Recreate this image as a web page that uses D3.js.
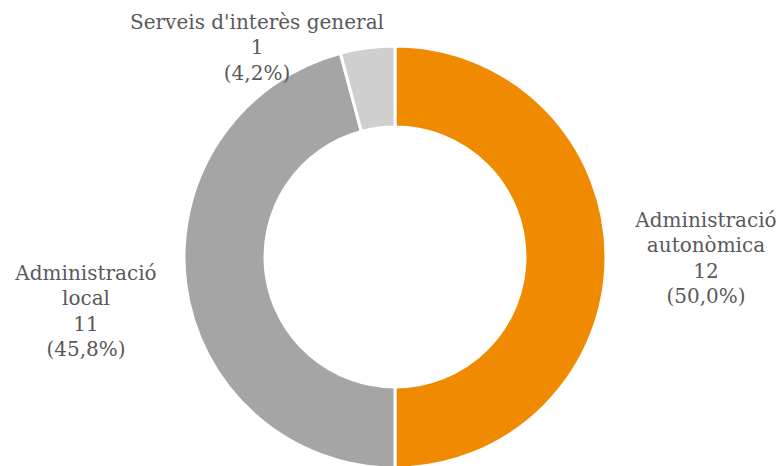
<!DOCTYPE html>
<html>
<head>
<meta charset="utf-8">
<script src="https://cdn.jsdelivr.net/npm/d3@7"></script>
<style>
  html, body { margin: 0; padding: 0; background: #fff; }
  svg { display: block; }
</style>
</head>
<body>
<svg id="chart" width="784" height="466"></svg>
<script>
// Categories and counts
const categories = ["Administració autonòmica", "Administració local", "Serveis d'interès general"];
const labelLines = [["Administració", "autonòmica"], ["Administració", "local"], ["Serveis d'interès general"]];
const values = [12, 11, 1];
const colors = ["#F08A00", "#A5A5A5", "#D0CFD0"];

// Label anchor points (centre of first text line) for each slice
const labelAnchors = [[706, 220], [86, 273], [257, 22]];

const width = 784, height = 466;
const cx = 395, cy = 257;
const outerR = 211, innerR = 130;

const svg = d3.select("#chart");
const g = svg.append("g").attr("transform", `translate(${cx},${cy})`);

const total = d3.sum(values);
const pie = d3.pie().sort(null).value(d => d)(values);
const arc = d3.arc().innerRadius(innerR).outerRadius(outerR);

g.selectAll("path")
  .data(pie)
  .join("path")
  .attr("d", arc)
  .attr("fill", (d, i) => colors[i])
  .attr("stroke", "#fff")
  .attr("stroke-width", 3)
  .attr("stroke-linejoin", "miter");

const fmt = v => "(" + (v * 100).toFixed(1).replace(".", ",") + "%)";
const lineH = 25.3;

labelLines.forEach((lines, i) => {
  const all = lines.concat([String(values[i]), fmt(values[i] / total)]);
  const t = svg.append("text")
    .attr("x", labelAnchors[i][0])
    .attr("y", labelAnchors[i][1])
    .attr("text-anchor", "middle")
    .attr("dominant-baseline", "central")
    .attr("font-family", "'DejaVu Serif', serif")
    .attr("font-size", 20)
    .attr("fill", "#595959");
  all.forEach((s, k) => {
    t.append("tspan")
      .attr("x", labelAnchors[i][0])
      .attr("y", labelAnchors[i][1] + k * lineH)
      .text(s);
  });
});
</script>
</body>
</html>
